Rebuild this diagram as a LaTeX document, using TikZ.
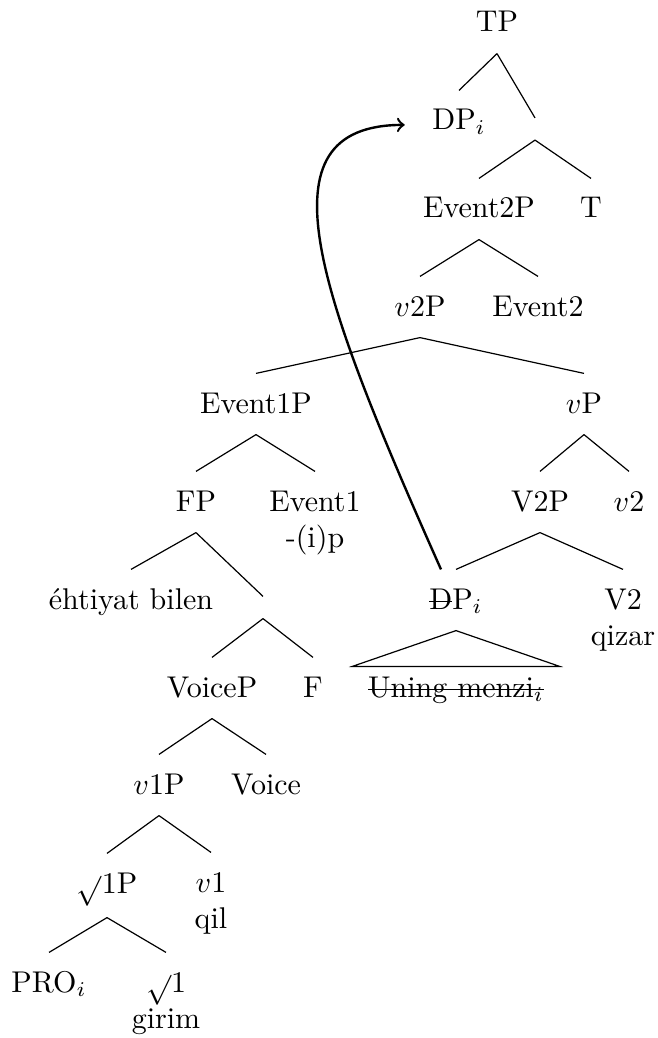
\documentclass[tikz,border=0pt]{standalone}
\newcommand{\struck}[1]{\setbox0\hbox{#1}\rlap{\rule[2.3pt]{\wd0}{0.4pt}}\box0}
\newcommand{\twoline}[2]{\vtop{\halign{\hfil##\hfil\cr#1\cr#2\cr}}}
\begin{document}
\begin{tikzpicture}[
    x=0.3333pt, y=-0.3333pt,
    cat/.style={anchor=base, text height=7pt, text depth=1pt, inner xsep=3pt, inner ysep=6pt},
    bar/.style={inner sep=0pt, minimum width=0pt, minimum height=7pt},
    roof/.style={cat, inner ysep=3pt, minimum width=68.7pt},
    move/.style={->, thick}
]
\useasboundingbox (0,0) rectangle (657,1038);

\node[cat] (TP) at (497,32) {TP};
\node[cat] (DPi) at (459,130) {DP$_i$};
\node[bar] (Tbar) at (535,129) {};
\node[cat] (Ev2P) at (479,218) {Event2P};
\node[cat] (T) at (591,218) {T};
\node[cat] (v2P) at (420,316) {$v$2P};
\node[cat] (Ev2) at (538,316) {Event2};
\node[cat] (Ev1P) at (256,413) {Event1P};
\node[cat] (vP) at (584,413) {$v$P};
\node[cat] (FP) at (196,511) {FP};
\node[cat] (Ev1) at (315,511) {\twoline{Event1}{-(i)p}};
\node[cat] (V2P) at (540,511) {V2P};
\node[cat] (v2) at (629,511) {$v$2};
\node[cat] (eht) at (131,609) {éhtiyat bilen};
\node[bar] (Fbar) at (263,607.5) {};
\node[cat] (DPt) at (456,609) {\struck{D}P$_i$};
\node[cat] (V2) at (623,609) {\twoline{V2}{qizar}};
\node[cat] (VoiceP) at (212,697) {VoiceP};
\node[cat] (F) at (313,697) {F};
\node[roof] (uning) at (456,697) {\struck{Uning menzi$_i$}};
\node[cat] (v1P) at (159,794) {$v$1P};
\node[cat] (Voice) at (266,794) {Voice};
\node[cat, text depth=2pt] (R1P) at (107,893) {$\sqrt{}$1P};
\node[cat] (v1) at (211,892) {\twoline{$v$1}{qil}};
\node[cat] (PRO) at (49,992) {PRO$_i$};
\node[cat] (R1) at (166,992) {\twoline{$\sqrt{}$1}{girim}};

\draw (TP.south) -- (DPi.north) (TP.south) -- (Tbar.north);
\draw (Tbar.south) -- (Ev2P.north) (Tbar.south) -- (T.north);
\draw (Ev2P.south) -- (v2P.north) (Ev2P.south) -- (Ev2.north);
\draw (v2P.south) -- (Ev1P.north) (v2P.south) -- (vP.north);
\draw (Ev1P.south) -- (FP.north) (Ev1P.south) -- (Ev1.north);
\draw (vP.south) -- (V2P.north) (vP.south) -- (v2.north);
\draw (FP.south) -- (eht.north) (FP.south) -- (Fbar.north);
\draw (V2P.south) -- (DPt.north) (V2P.south) -- (V2.north);
\draw (Fbar.south) -- (VoiceP.north) (Fbar.south) -- (F.north);
\draw (DPt.south) -- (uning.north west) -- (uning.north east) -- cycle;
\draw (VoiceP.south) -- (v1P.north) (VoiceP.south) -- (Voice.north);
\draw (v1P.south) -- (R1P.north) (v1P.south) -- (v1.north);
\draw (R1P.south) -- (PRO.north) (R1P.south) -- (R1.north);

\draw[move] ([xshift=-5pt]DPt.north) .. controls +(-122,-274) and +(-150,0) .. ([xshift=-6pt,yshift=-1.3pt]DPi.west);
\end{tikzpicture}
\end{document}
